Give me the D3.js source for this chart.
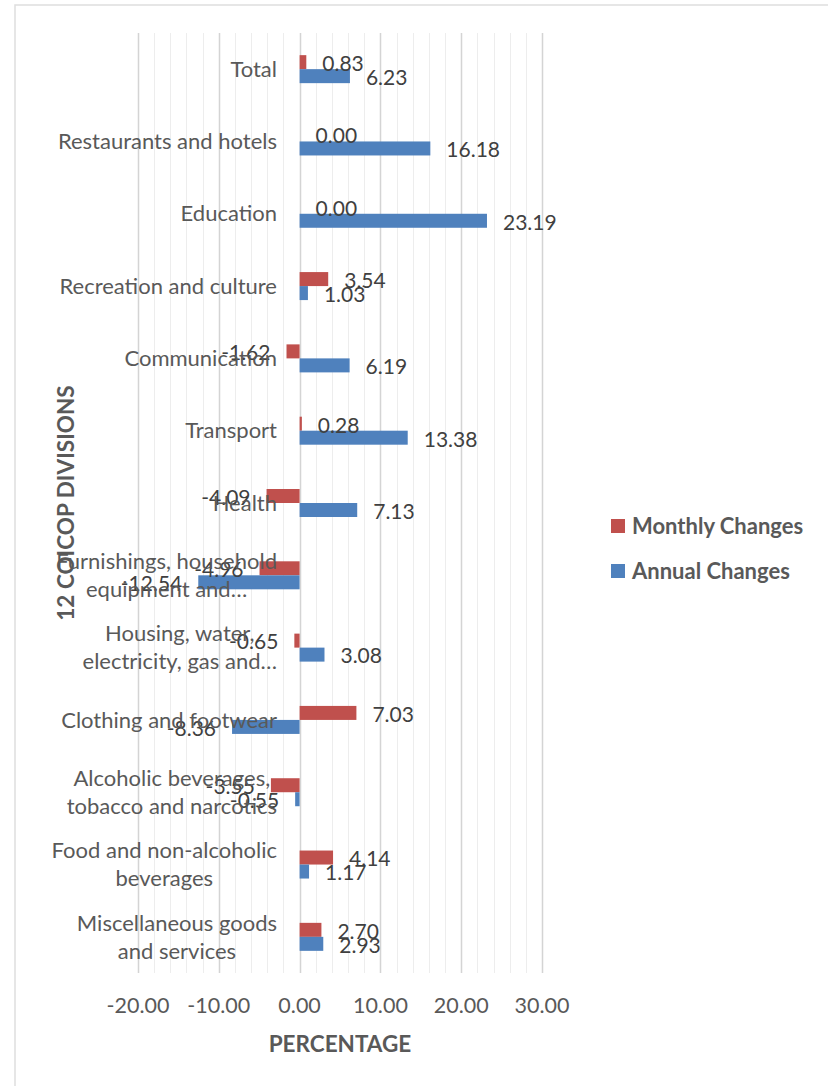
<!DOCTYPE html>
<html>
<head>
<meta charset="utf-8">
<script src="https://cdn.jsdelivr.net/npm/d3@7"></script>
<style>
  html, body { margin: 0; padding: 0; background: #fff; }
  svg { display: block; font-family: Lato, "Open Sans", sans-serif; }
</style>
</head>
<body>
<div id="chart"></div>
<script>
// categories top to bottom, "\n" marks where the label wraps
const categories = [
  "Total",
  "Restaurants and hotels",
  "Education",
  "Recreation and culture",
  "Communication",
  "Transport",
  "Health",
  "Furnishings, household\nequipment and…",
  "Housing, water,\nelectricity, gas and…",
  "Clothing and footwear",
  "Alcoholic beverages,\ntobacco and narcotics",
  "Food and non-alcoholic\nbeverages",
  "Miscellaneous goods\nand services"
];
const monthly = [0.83, 0.00, 0.00, 3.54, -1.62, 0.28, -4.09, -4.96, -0.65, 7.03, -3.55, 4.14, 2.70];
const annual = [6.23, 16.18, 23.19, 1.03, 6.19, 13.38, 7.13, -12.54, 3.08, -8.36, -0.55, 1.17, 2.93];
const seriesNames = ["Monthly Changes", "Annual Changes"];
const seriesColors = ["#C0504D", "#4F81BD"];
const xTicks = [-20, -10, 0, 10, 20, 30];

const width = 828, height = 1086;
const plotLeft = 138, plotRight = 542, plotTop = 33, plotBottom = 973;

const svg = d3.select("#chart").append("svg")
  .attr("width", width).attr("height", height);

// outer chart frame
svg.append("rect")
  .attr("x", 15).attr("y", 5)
  .attr("width", 900).attr("height", 1200)
  .attr("fill", "none").attr("stroke", "#dedede").attr("stroke-width", 1.5);

const x = d3.scaleLinear().domain([-20, 30]).range([plotLeft, plotRight]);
const y = d3.scaleBand().domain(categories).range([plotTop, plotBottom]);
const step = y.step();
const ySub = d3.scaleBand().domain(seriesNames)
  .range([step / 2 - 14, step / 2 + 14]);

// gridlines: minor every 2, major every 10
const minor = d3.range(-20, 31, 2);
svg.append("g").selectAll("line").data(minor).join("line")
  .attr("x1", d => Math.round(x(d)) + 0.5).attr("x2", d => Math.round(x(d)) + 0.5)
  .attr("y1", plotTop).attr("y2", plotBottom)
  .attr("stroke", d => d % 10 === 0 ? "#d4d4d4" : "#ededed")
  .attr("stroke-width", d => d % 10 === 0 ? 1.5 : 1);

// bars
const rows = categories.map((c, i) => ({ cat: c, vals: [monthly[i], annual[i]] }));
const groups = svg.append("g").selectAll("g").data(rows).join("g")
  .attr("transform", d => `translate(0,${y(d.cat)})`);

groups.selectAll("rect").data(d => d.vals.map((v, j) => ({ v, s: seriesNames[j], c: seriesColors[j] })))
  .join("rect")
  .attr("x", d => x(Math.min(0, d.v)))
  .attr("width", d => Math.abs(x(d.v) - x(0)))
  .attr("y", d => ySub(d.s))
  .attr("height", ySub.bandwidth())
  .attr("fill", d => d.c);

// data labels
groups.selectAll("text").data(d => d.vals.map((v, j) => ({ v, s: seriesNames[j] })))
  .join("text")
  .attr("x", d => d.v < 0 ? x(d.v) - 16 : x(d.v) + 16)
  .attr("y", d => ySub(d.s) + ySub.bandwidth() / 2 + 1.5)
  .attr("dy", "0.35em")
  .attr("text-anchor", d => d.v < 0 ? "end" : "start")
  .attr("font-size", 21)
  .attr("fill", "#404040")
  .text(d => d.v.toFixed(2));

// category labels
const catLabels = svg.append("g").selectAll("text").data(categories).join("text")
  .attr("font-size", 22)
  .attr("fill", "#595959");
catLabels.each(function (c) {
  const t = d3.select(this);
  const lines = c.split("\n");
  const cy = y(c) + step / 2;
  lines.forEach((ln, k) => {
    t.append("tspan")
      .attr("y", cy + (k - (lines.length - 1) / 2) * 28)
      .attr("dy", "0.35em")
      .text(ln);
  });
  if (lines.length === 1) {
    t.attr("text-anchor", "end").selectAll("tspan").attr("x", 277);
  } else {
    const w = d3.max(t.selectAll("tspan").nodes(), n => n.getComputedTextLength());
    t.attr("text-anchor", "middle").selectAll("tspan").attr("x", 277 - w / 2);
  }
});

// x axis tick labels
svg.append("g").selectAll("text").data(xTicks).join("text")
  .attr("x", d => x(d)).attr("y", 1005).attr("dy", "0.35em")
  .attr("text-anchor", "middle")
  .attr("font-size", 21.5).attr("fill", "#595959")
  .text(d => d.toFixed(2));

// axis titles
svg.append("text")
  .attr("x", (plotLeft + plotRight) / 2).attr("y", 1044).attr("dy", "0.35em")
  .attr("text-anchor", "middle")
  .attr("font-size", 22.5).attr("font-weight", "bold").attr("fill", "#595959")
  .text("PERCENTAGE");

svg.append("text")
  .attr("transform", `translate(66,${(plotTop + plotBottom) / 2}) rotate(-90)`)
  .attr("dy", "0.35em")
  .attr("text-anchor", "middle")
  .attr("font-size", 22.5).attr("font-weight", "bold").attr("fill", "#595959")
  .text("12 COICOP DIVISIONS");

// legend
const legend = svg.append("g").selectAll("g").data(seriesNames).join("g")
  .attr("transform", (d, i) => `translate(611,${519 + i * 45})`);
legend.append("rect")
  .attr("width", 14).attr("height", 14)
  .attr("fill", (d, i) => seriesColors[i]);
legend.append("text")
  .attr("x", 21).attr("y", 7).attr("dy", "0.35em")
  .attr("font-size", 22).attr("font-weight", "bold").attr("fill", "#595959")
  .text(d => d);
</script>
</body>
</html>
